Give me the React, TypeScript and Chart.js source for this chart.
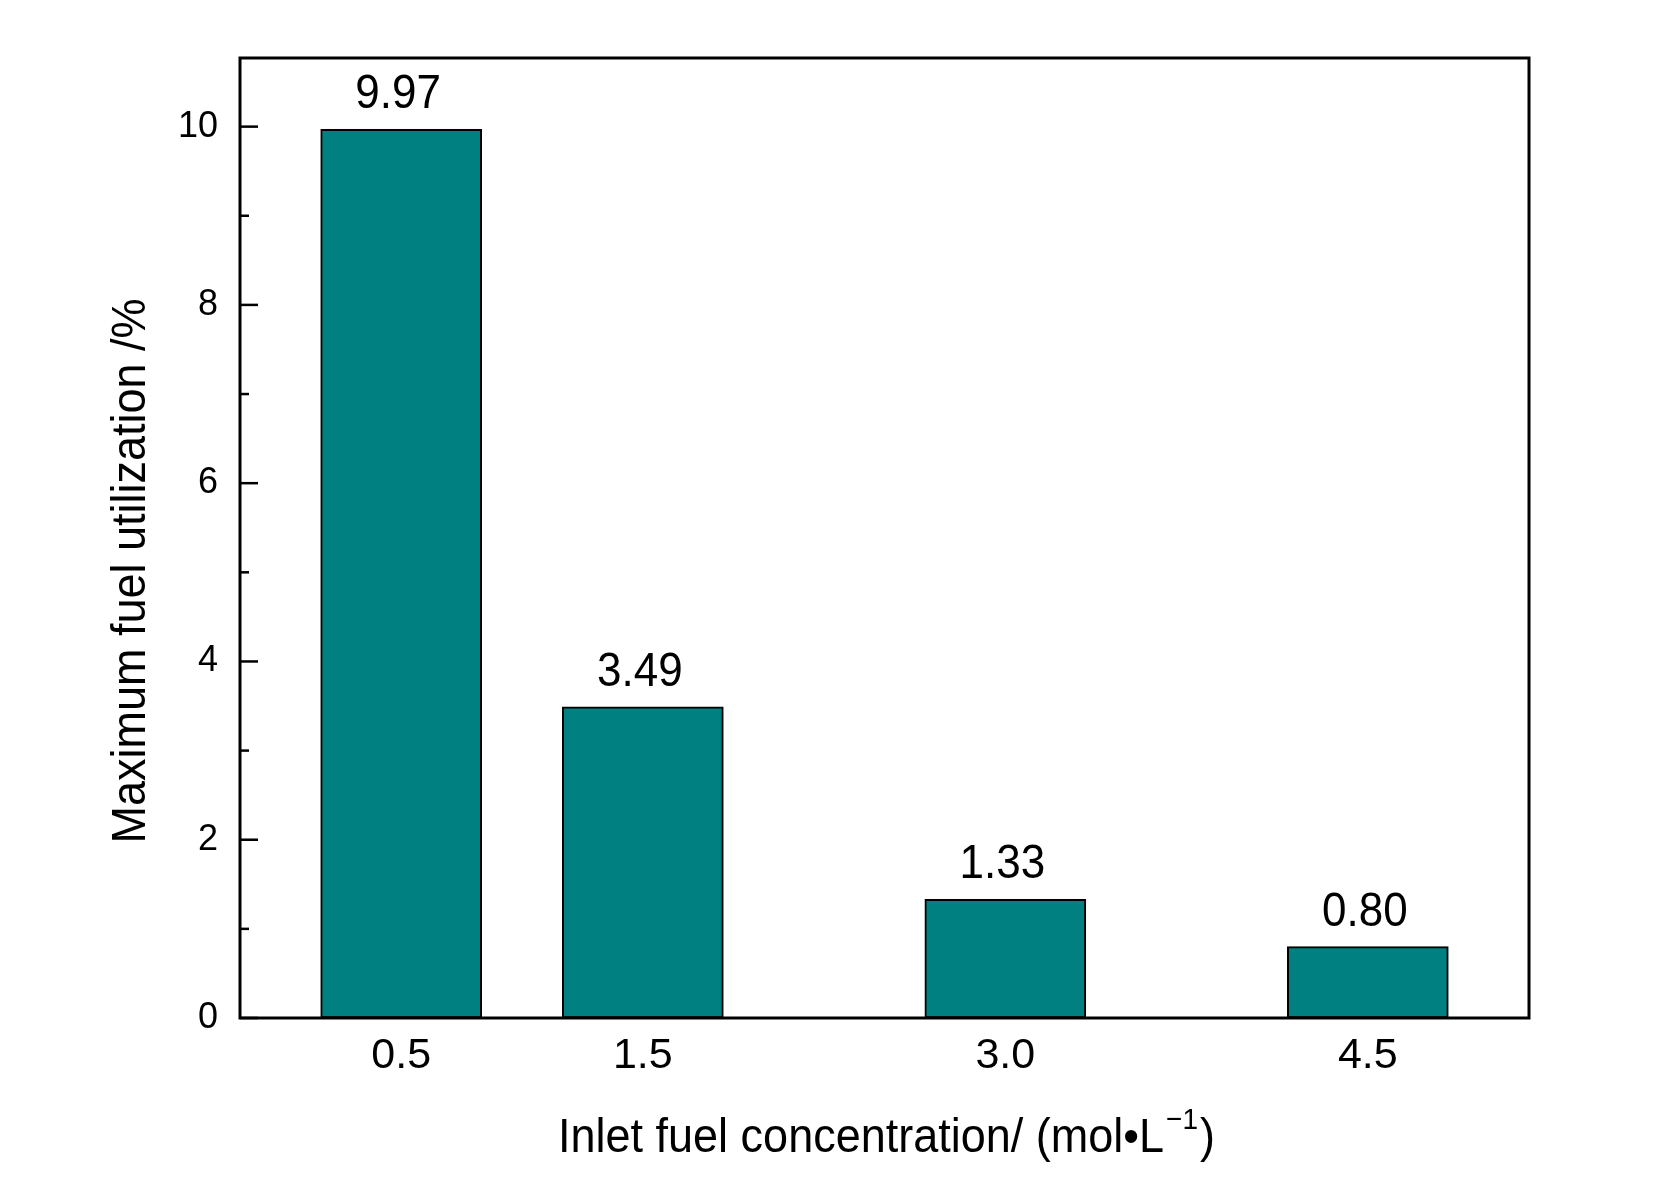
import React, { useEffect, useRef } from "react";
import { Chart, registerables } from "chart.js";

Chart.register(...registerables);

const categories = [0.5, 1.5, 3.0, 4.5];
const utilization = [9.97, 3.49, 1.33, 0.8];
const valueLabels = ["9.97", "3.49", "1.33", "0.80"];
const xTickLabels = ["0.5", "1.5", "3.0", "4.5"];
const yTickValues = [0, 1, 2, 3, 4, 5, 6, 7, 8, 9, 10];
const yTitle = "Maximum fuel utilization /%";
const xTitleMain = "Inlet fuel concentration/ (mol\u2022L";
const xTitleSup = "\u22121";
const xTitleTail = ")";

const FONT = "'Liberation Sans', Arial, sans-serif";

const overlayPlugin = {
  id: "overlay",
  afterDraw(chart: any) {
    const ctx = chart.ctx as CanvasRenderingContext2D;
    const { left, right, top, bottom } = chart.chartArea;
    const yScale = chart.scales.y;
    ctx.save();
    // frame
    ctx.strokeStyle = "#000";
    ctx.lineWidth = 3;
    ctx.strokeRect(left, top, right - left, bottom - top);
    // inward y ticks
    ctx.lineWidth = 2.5;
    yTickValues.forEach((v) => {
      const y = yScale.getPixelForValue(v);
      const len = v % 2 === 0 ? 18 : 9;
      ctx.beginPath();
      ctx.moveTo(left, y);
      ctx.lineTo(left + len, y);
      ctx.stroke();
    });
    // value labels (slightly tall glyphs like the reference)
    ctx.fillStyle = "#000";
    ctx.textAlign = "center";
    ctx.textBaseline = "alphabetic";
    const meta = chart.getDatasetMeta(0);
    meta.data.forEach((bar: any, i: number) => {
      ctx.save();
      ctx.translate(bar.x - 3, bar.y - 21);
      ctx.scale(1, 1.1);
      ctx.font = `44px ${FONT}`;
      ctx.fillText(valueLabels[i], 0, 0);
      ctx.restore();
    });
    // y title
    ctx.save();
    ctx.translate(132, 571);
    ctx.rotate(-Math.PI / 2);
    ctx.scale(1, 1.08);
    ctx.font = `45px ${FONT}`;
    ctx.textAlign = "center";
    ctx.textBaseline = "middle";
    ctx.fillText(yTitle, 0, 0);
    ctx.restore();
    // x title
    ctx.save();
    ctx.textAlign = "left";
    ctx.textBaseline = "alphabetic";
    const baseFont = `45px ${FONT}`;
    const supFont = `28px ${FONT}`;
    ctx.font = baseFont;
    const wMain = ctx.measureText(xTitleMain).width;
    const wTail = ctx.measureText(xTitleTail).width;
    ctx.font = supFont;
    const wSup = ctx.measureText(xTitleSup).width;
    const total = wMain + wSup + 4 + wTail;
    const cx = (left + right) / 2 + 2;
    const baseY = 1152;
    ctx.translate(0, baseY);
    ctx.scale(1, 1.08);
    let x = cx - total / 2;
    ctx.font = baseFont;
    ctx.fillText(xTitleMain, x, 0);
    x += wMain + 2;
    ctx.font = supFont;
    ctx.fillText(xTitleSup, x, -21);
    x += wSup + 2;
    ctx.font = baseFont;
    ctx.fillText(xTitleTail, x, 0);
    ctx.restore();
    ctx.restore();
  },
};

export default function App() {
  const canvasRef = useRef<HTMLCanvasElement | null>(null);

  useEffect(() => {
    const canvas = canvasRef.current;
    if (!canvas) return;
    const chart = new Chart(canvas, {
      type: "bar",
      data: {
        datasets: [
          {
            data: categories.map((c, i) => ({ x: c, y: utilization[i] })),
            backgroundColor: "#008080",
            borderColor: "#000000",
            borderWidth: 2,
            borderSkipped: false,
            barThickness: 161,
          },
        ],
      },
      options: {
        responsive: false,
        animation: false,
        layout: { padding: { left: 0, top: 58, right: 125, bottom: 0 } },
        plugins: {
          legend: { display: false },
          tooltip: { enabled: false },
          title: { display: false },
        },
        scales: {
          x: {
            type: "linear",
            min: -0.167,
            max: 5.167,
            offset: false,
            grid: { display: false, drawTicks: false, offset: false },
            border: { display: false },
            afterBuildTicks: (scale: any) => {
              scale.ticks = categories.map((v) => ({ value: v }));
            },
            afterFit: (scale: any) => {
              scale.height = 163;
            },
            ticks: {
              autoSkip: false,
              maxRotation: 0,
              padding: 12,
              color: "#000",
              font: { family: FONT, size: 43 },
              callback: (v: any) => {
                const i = categories.indexOf(Number(v));
                return i >= 0 ? xTickLabels[i] : "";
              },
            },
          },
          y: {
            type: "linear",
            min: 0,
            max: 10.77,
            grid: { display: false, drawTicks: false },
            border: { display: false },
            afterBuildTicks: (scale: any) => {
              scale.ticks = yTickValues.map((v) => ({ value: v }));
            },
            afterFit: (scale: any) => {
              scale.width = 240;
            },
            ticks: {
              autoSkip: false,
              padding: 22,
              color: "#000",
              font: { family: FONT, size: 36 },
              callback: (v: any) => (Number(v) % 2 === 0 ? String(v) : ""),
            },
          },
        },
      },
      plugins: [overlayPlugin],
    } as any);
    return () => chart.destroy();
  }, []);

  return (
    <div style={{ position: "fixed", left: 0, top: 0, width: 1654, height: 1181, background: "#fff" }}>
      <canvas ref={canvasRef} width={1654} height={1181} style={{ display: "block" }} />
    </div>
  );
}
